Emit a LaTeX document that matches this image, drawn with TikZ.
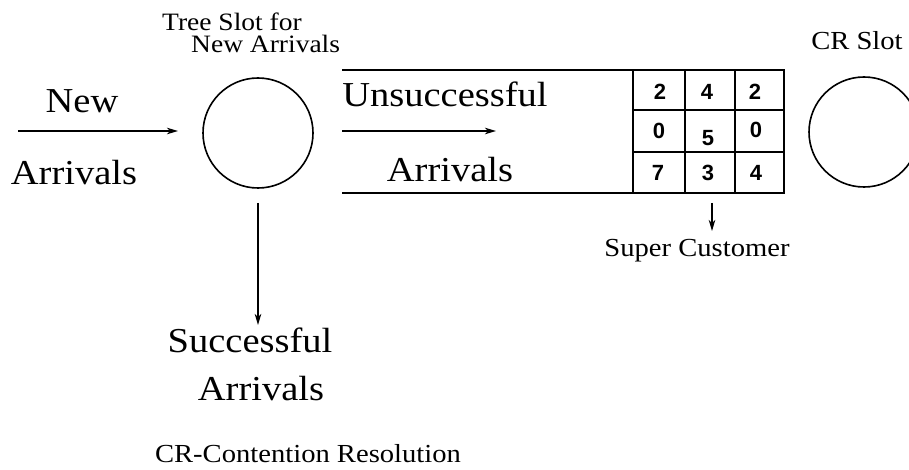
\documentclass[tikz,border=0pt]{standalone}
\usepackage{fontspec}
\setmainfont[FakeStretch=1.1]{Liberation Serif}
\newfontfamily\digitfont{Liberation Sans}
\usetikzlibrary{arrows.meta}
\tikzset{
  big/.style={inner sep=0pt, anchor=base, font=\fontsize{35}{40}\selectfont},
  small/.style={inner sep=0pt, anchor=base, font=\fontsize{26}{30}\selectfont},
  digit/.style={inner sep=0pt, font=\digitfont\bfseries\fontsize{22}{24}\selectfont},
  slot/.style={circle, draw, line width=1.6pt, minimum size=110pt, inner sep=0pt},
  boxline/.style={line width=2pt},
  flow/.style={line width=1.3pt, -{Stealth[length=11pt,width=6.5pt,inset=3pt]}}
}
\begin{document}
\begin{tikzpicture}[x=1pt,y=-1pt]
\useasboundingbox (0,0) rectangle (909,470);
\clip (0,0) rectangle (909,470);
% labels
\node[inner sep=0pt, anchor=north west, align=left, font=\fontsize{25}{21.5}\selectfont] (treelbl) at (162,13) {Tree Slot for\\\hspace*{29pt}New Arrivals};
\node[small] (crlbl) at (857,50) {CR Slot};
\node[big] (newA) at (82,113) {New};
\node[big] (newB) at (74,185) {Arrivals};
\node[big] (unsA) at (445,107) {Unsuccessful};
\node[big] (unsB) at (450,182) {Arrivals};
\node[big] (sucA) at (250,352) {Successful};
\node[big] (sucB) at (261,400) {Arrivals};
\node[small] (super) at (697,256) {Super Customer};
\node[small] (crdef) at (308,462) {CR-Contention Resolution};
% slots
\node[slot] (tree) at (258,133) {};
\node[slot] (cr) at (864,132) {};
% queue
\coordinate (qtl) at (342,70);
\coordinate (qbl) at (342,193);
\coordinate (qtr) at (784,70);
\coordinate (qbr) at (784,193);
\draw[boxline] (qtl) -- (qtr) -- (qbr) -- (qbl);
\draw[boxline] (633,70) -- (633,193);
\draw[line width=1.6pt] (685,70) -- (685,193);
\draw[line width=1.6pt] (735,70) -- (735,193);
\draw[line width=1.6pt] (633,110) -- (784,110);
\draw[line width=1.6pt] (633,152) -- (784,152);
% digits
\node[digit] (c11) at (660,92) {2};
\node[digit] (c12) at (707,92) {4};
\node[digit] (c13) at (755,92) {2};
\node[digit] (c21) at (659,131) {0};
\node[digit] (c22) at (708,138) {5};
\node[digit] (c23) at (756,130) {0};
\node[digit] (c31) at (658,173) {7};
\node[digit] (c32) at (708,173) {3};
\node[digit] (c33) at (756,173) {4};
% arrows
\coordinate (inS) at (18,131);
\coordinate (inE) at (178,131);
\draw[flow] (inS) -- (inE);
\coordinate (unS) at (342,131);
\coordinate (unE) at (496,131);
\draw[flow] (unS) -- (unE);
\coordinate (sdS) at (258,203);
\coordinate (sdE) at (258,325);
\draw[flow] (sdS) -- (sdE);
\coordinate (spS) at (712,203);
\coordinate (spE) at (712,231);
\draw[flow] (spS) -- (spE);
\end{tikzpicture}
\end{document}
